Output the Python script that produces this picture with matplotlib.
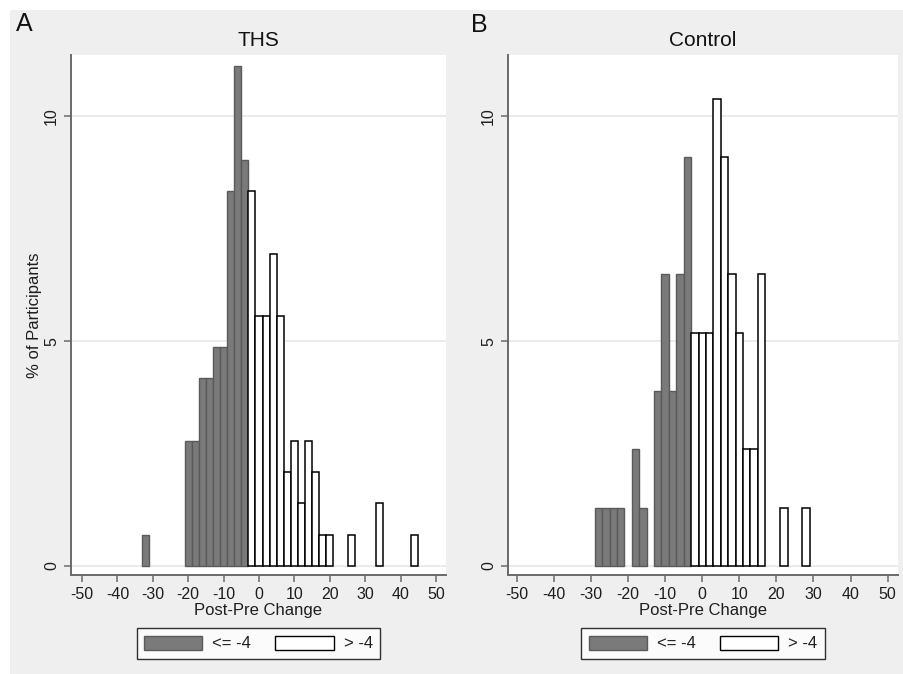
import matplotlib
matplotlib.use("Agg")
import matplotlib.pyplot as plt
from matplotlib.patches import Patch, Rectangle

plt.rcParams['font.family'] = ['Liberation Sans', 'DejaVu Sans']

# ---------------- data (percent of participants per 2-unit bin) ----------------
bin_width = 2
ths_low_left = [-33, -21, -19, -17, -15, -13, -11, -9, -7, -5]
ths_low_pct = [0.69, 2.78, 2.78, 4.17, 4.17, 4.86, 4.86, 8.33, 11.11, 9.03]
ths_high_left = [-3, -1, 1, 3, 5, 7, 9, 11, 13, 15, 17, 19, 25, 33, 43]
ths_high_pct = [8.33, 5.56, 5.56, 6.94, 5.56, 2.08, 2.78, 1.39, 2.78, 2.08,
                0.69, 0.69, 0.69, 1.39, 0.69]

ctl_low_left = [-29, -27, -25, -23, -19, -17, -13, -11, -9, -7, -5]
ctl_low_pct = [1.30, 1.30, 1.30, 1.30, 2.60, 1.30, 3.90, 6.49, 3.90, 6.49, 9.09]
ctl_high_left = [-3, -1, 1, 3, 5, 7, 9, 11, 13, 15, 21, 27]
ctl_high_pct = [5.19, 5.19, 5.19, 10.39, 9.09, 6.49, 5.19, 2.60, 2.60, 6.49,
                1.30, 1.30]

x_ticks = list(range(-50, 51, 10))
y_ticks = [0, 5, 10]
panel_titles = ["THS", "Control"]
panel_letters = ["A", "B"]
legend_labels = ["<= -4", "> -4"]
x_label = "Post-Pre Change"
y_label = "% of Participants"

# ---------------- styling ----------------
W, H = 904, 674
BG = "#efefef"
GRAY_FILL = "#7a7a7a"
GRAY_EDGE = "#5a5a5a"
AXIS_COL = "#6a6a6a"
GRID_COL = "#e8e8e8"
TXT = "#1e1e1e"

fig = plt.figure(figsize=(W / 100, H / 100), dpi=100, facecolor="white")
fig.patches.append(Rectangle((10 / W, 0), 1 - 10 / W, (H - 10) / H,
                             transform=fig.transFigure, facecolor=BG,
                             edgecolor="none", zorder=-10))

def fx(px):
    return px / W

def fy(py):
    return 1 - py / H

panels = [
    dict(left=71, right=446, lows=(ths_low_left, ths_low_pct),
         highs=(ths_high_left, ths_high_pct), xlim=(-53.1, 52.8)),
    dict(left=508, right=898, lows=(ctl_low_left, ctl_low_pct),
         highs=(ctl_high_left, ctl_high_pct), xlim=(-52.4, 52.8)),
]
top_px, bot_px = 55, 575

for i, p in enumerate(panels):
    ax = fig.add_axes([fx(p['left']), fy(bot_px), (p['right'] - p['left']) / W,
                       (bot_px - top_px) / H])
    ax.set_facecolor("white")
    ax.set_xlim(*p['xlim'])
    ax.set_ylim(-0.2, 11.36)
    for yv in y_ticks:
        ax.axhline(yv, color=GRID_COL, lw=1.2, zorder=0)
    ax.bar(p['lows'][0], p['lows'][1], width=bin_width, align='edge',
           color=GRAY_FILL, edgecolor=GRAY_EDGE, linewidth=1.0, zorder=2)
    ax.bar(p['highs'][0], p['highs'][1], width=bin_width, align='edge',
           color="white", edgecolor="black", linewidth=1.1, zorder=2)

    for s in ['top', 'right']:
        ax.spines[s].set_visible(False)
    for s in ['left', 'bottom']:
        ax.spines[s].set_color(AXIS_COL)
        ax.spines[s].set_linewidth(1.4)

    ax.set_xticks(x_ticks)
    ax.set_xticklabels([str(t) for t in x_ticks])
    ax.set_yticks(y_ticks)
    ax.set_yticklabels([str(t) for t in y_ticks], rotation=90, va='center')
    ax.tick_params(axis='x', length=5, width=1.1, color=AXIS_COL, pad=3.5,
                   labelsize=11.5, labelcolor=TXT)
    ax.tick_params(axis='y', length=5, width=1.1, color=AXIS_COL, pad=3.5,
                   labelsize=11.5, labelcolor=TXT)

    cx = (p['left'] + p['right']) / 2
    fig.text(fx(cx), fy(40), panel_titles[i], ha='center', va='center',
             fontsize=15, color="#111111")
    fig.text(fx(cx), fy(611), x_label, ha='center', va='center',
             fontsize=12, color=TXT)

    handles = [Patch(facecolor=GRAY_FILL, edgecolor=GRAY_EDGE, linewidth=1.0),
               Patch(facecolor="white", edgecolor="black", linewidth=1.0)]
    leg = fig.legend(handles, legend_labels, ncol=2, loc='center',
                     bbox_to_anchor=(fx(cx), fy(643.5)),
                     bbox_transform=fig.transFigure, fontsize=12,
                     handlelength=3.5, handleheight=0.95, handletextpad=0.6,
                     columnspacing=1.45, borderpad=0.45, fancybox=False,
                     frameon=True)
    leg.get_frame().set_edgecolor("black")
    leg.get_frame().set_linewidth(1.0)
    leg.get_frame().set_facecolor("white")
    for t in leg.get_texts():
        t.set_color(TXT)

fig.text(fx(24.5), fy(24), panel_letters[0], ha='center', va='center',
         fontsize=18, color="#111111")
fig.text(fx(479), fy(25), panel_letters[1], ha='center', va='center',
         fontsize=18, color="#111111")
fig.text(fx(34), fy(315), y_label, ha='center', va='center', rotation=90,
         fontsize=12, color=TXT)

fig.savefig("out.png", dpi=100, facecolor=fig.get_facecolor())
